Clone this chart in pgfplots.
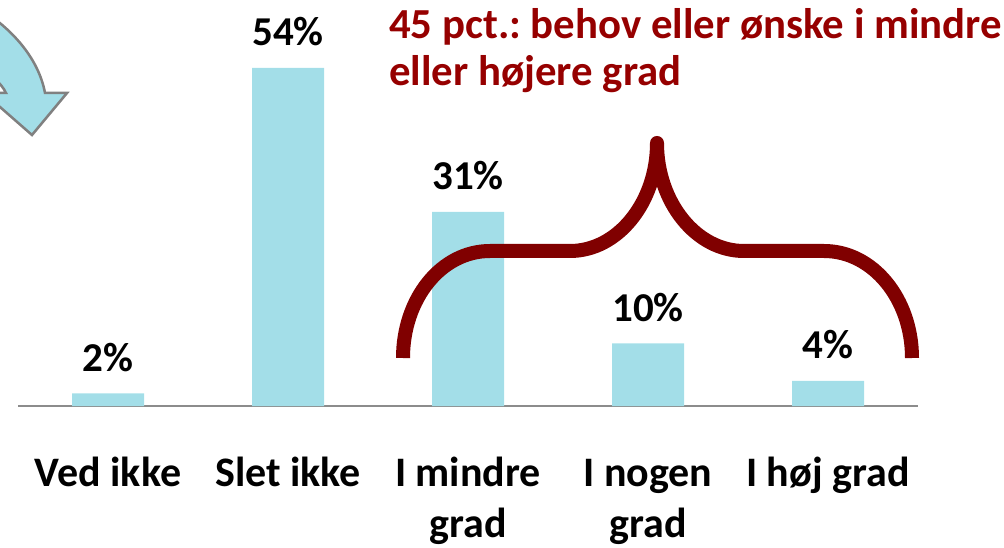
\documentclass[border=0pt]{standalone}
\usepackage{pgfplots}
\pgfplotsset{compat=1.18}
\usepackage{fontspec}
\setmainfont{Carlito}
\frenchspacing
\definecolor{barblue}{HTML}{A3DEE8}
\definecolor{axisgray}{HTML}{8C8C8C}
\definecolor{bracered}{HTML}{800000}
\definecolor{titlered}{HTML}{960000}
\definecolor{arrowgray}{HTML}{808080}
\begin{document}
\begin{tikzpicture}
\useasboundingbox (0,0) rectangle (1004pt,547pt);
\begin{scope}
\clip (0,0) rectangle (1004pt,547pt);
\begin{scope}[shift={(0pt,547pt)}, x=1pt, y=-1pt]
\draw[fill=barblue, draw=arrowgray, line width=2.5pt, line join=miter]
  (-60,-12) .. controls (5,15) and (38,55) .. (45,93) -- (67,93) -- (32,135) -- (-16,93) -- (6,93)
  .. controls (2,84) and (-10,72) .. (-40,55) -- cycle;
\end{scope}
\end{scope}
\begin{axis}[
  at={(18pt,141pt)}, anchor=south west,
  scale only axis, width=900pt, height=375.6pt,
  xmin=-0.5, xmax=4.5, ymin=0, ymax=60,
  axis x line=bottom, axis y line=none,
  x axis line style={-, draw=axisgray, line width=2.5pt},
  xtick={0,1,2,3,4},
  xticklabels={\strut Ved ikke, \strut Slet ikke, \strut I mindre\\grad, \strut I nogen\\grad, \strut I høj grad},
  major tick length=0pt,
  xticklabel style={font=\fontsize{42}{51}\selectfont\bfseries, align=center, anchor=north, inner sep=0pt, yshift=-44.3pt},
  ybar, bar width=72pt,
  /pgf/number format/assume math mode=true,
  nodes near coords={\pgfmathprintnumber{\pgfplotspointmeta}\%},
  every node near coord/.append style={font=\fontsize{41}{49}\selectfont\bfseries, anchor=base, yshift=22pt, inner sep=0pt},
  clip=false,
]
\addplot[draw=none, fill=barblue] coordinates {(0,2) (1,54) (2,31) (3,10) (4,4)};
\end{axis}
\begin{scope}[shift={(0pt,547pt)}, x=1pt, y=-1pt]
\node[anchor=base west, inner sep=0pt, text=titlered, font=\fontsize{42.8}{47}\selectfont\bfseries] at (389,39) {45 pct.: behov eller ønske i mindre};
\node[anchor=base west, inner sep=0pt, text=titlered, font=\fontsize{42.8}{47}\selectfont\bfseries] at (389,86) {eller højere grad};
\draw[bracered, line width=14pt, line join=round, line cap=butt]
  (403,358) .. controls (403,299) and (441,251) .. (490,251) -- (570,251)
  .. controls (618,251) and (657,202) .. (657,143)
  .. controls (657,202) and (696,251) .. (744,251) -- (824,251)
  .. controls (873,251) and (912,299) .. (912,358);
\end{scope}
\end{tikzpicture}
\end{document}
